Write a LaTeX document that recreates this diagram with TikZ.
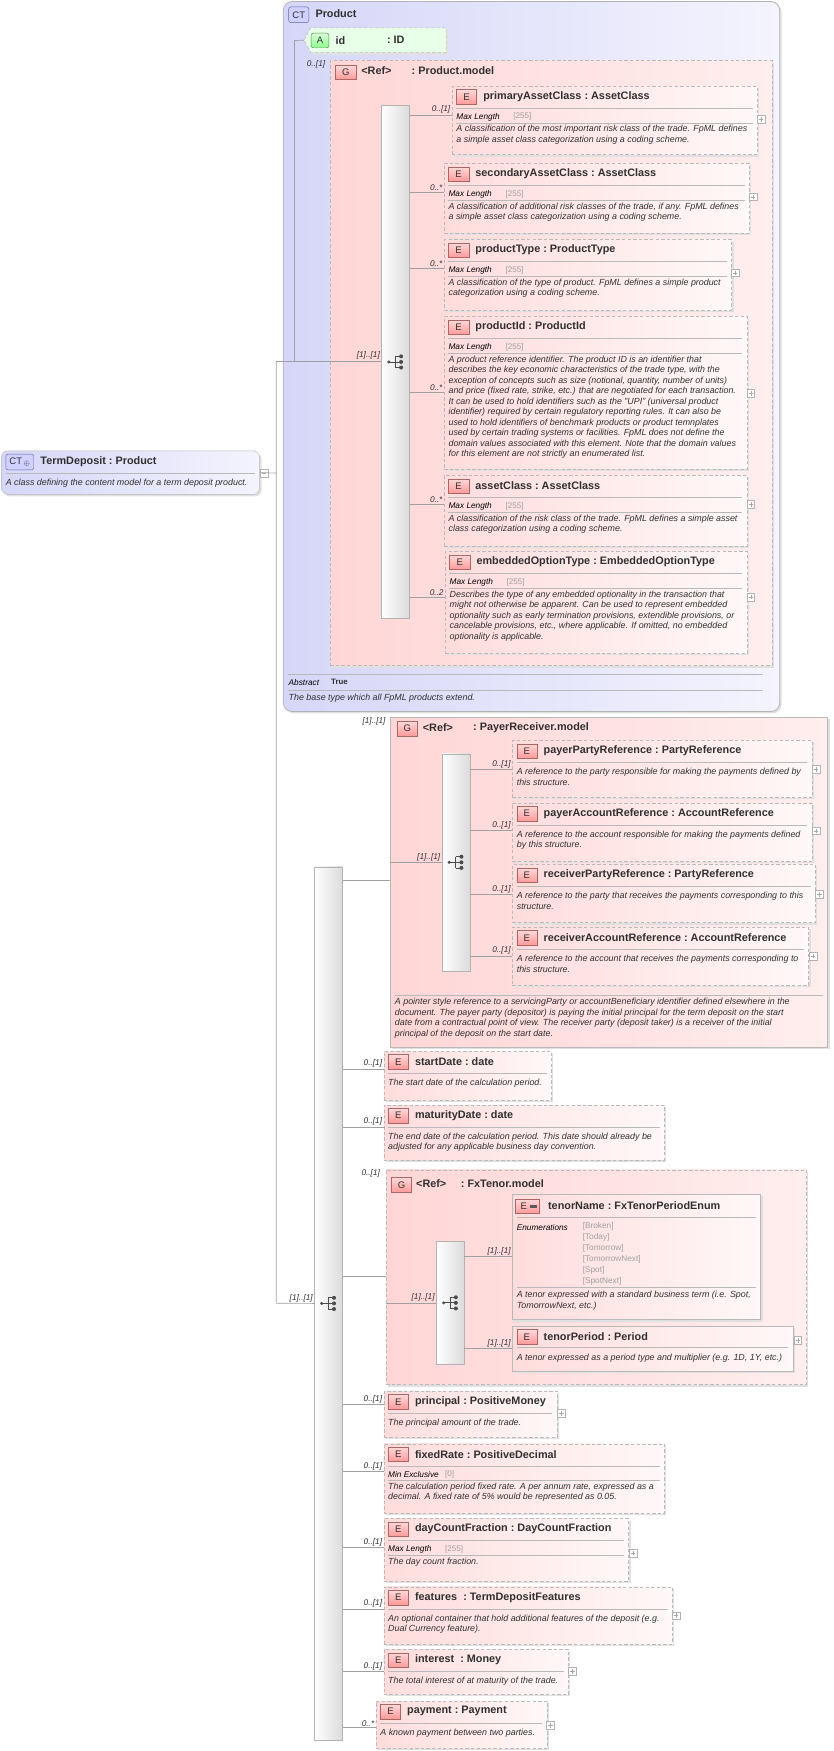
\documentclass[tikz,border=0pt]{standalone}
\usepackage{fontspec}
\setmainfont{Liberation Sans}
\definecolor{elL}{HTML}{FFDCDC}
\definecolor{elR}{HTML}{FFF8F8}
\definecolor{gL}{HTML}{FFD6D6}
\definecolor{gR}{HTML}{FFEEEE}
\definecolor{ctL}{HTML}{D6D6F8}
\definecolor{ctR}{HTML}{F4F4FE}
\definecolor{txt}{HTML}{303030}
\definecolor{lnc}{HTML}{A0A0A0}
\tikzset{
 eb/.style={draw=gray!55, left color=elL, right color=elR, inner sep=0pt, line width=0.6pt},
 ebd/.style={eb, dash pattern=on 3pt off 2pt},
 gb/.style={draw=gray!55, left color=gL, right color=gR, inner sep=0pt, line width=0.7pt},
 gbd/.style={gb, dash pattern=on 3pt off 2pt},
 shd/.style={fill=black!12},
 eicon/.style={draw=red!45!black!60, top color=red!15, bottom color=red!40, minimum width=18pt, minimum height=13pt, inner sep=0pt, font=\fontsize{8.5}{8}\selectfont, text=txt},
 cticon/.style={draw=blue!40!black!60, fill=blue!18, rounded corners=2pt, minimum width=18pt, minimum height=14pt, inner sep=0pt, font=\fontsize{8.5}{8}\selectfont, text=txt},
 ttl/.style={font=\fontsize{9.7}{10}\selectfont\bfseries, text=txt, inner sep=0pt},
 dsc/.style={font=\fontsize{7.95}{9.4}\selectfont\itshape, text=txt, inner sep=0pt, align=left},
 rl/.style={font=\fontsize{7.4}{8}\selectfont\itshape, text=black, inner sep=0pt},
 rv/.style={font=\fontsize{7.2}{8}\selectfont, text=gray!75, inner sep=0pt},
 mult/.style={font=\fontsize{7.4}{8}\selectfont\itshape, text=txt, inner sep=1pt},
 sepc/.style={draw=gray!55, line width=0.6pt},
 ln/.style={draw=lnc, line width=0.6pt},
 seqbar/.style={draw=gray!60, left color=white, right color=gray!28, inner sep=0pt},
 icn/.style={draw=black!70, line width=0.7pt},
}
\newcommand\elemA[9]{%
 \fill[shd] (#2+2,#3+2) rectangle ++(#4,#5);
 \node[#6, minimum width=#4pt, minimum height=#5pt, anchor=north west] (#1) at (#2,#3) {};
 \node[eicon, anchor=north west] (#1i) at (#2+4,#3+3) {E};
 \node[ttl, anchor=west] (#1t) at (#2+28,#3+9.5) {#7};
 \draw[sepc] (#2+4,#3+20) -- (#2+#4-4,#3+20);
 \node[rl, anchor=west] (#1r) at (#2+4,#3+28) {#8};
 \node[rv, anchor=west] (#1v) at (#2+55,#3+27.5) {#9};
 \draw[sepc] (#2+4,#3+33) -- (#2+#4-4,#3+33);}
\newcommand\elemB[7]{%
 \fill[shd] (#2+2,#3+2) rectangle ++(#4,#5);
 \node[#6, minimum width=#4pt, minimum height=#5pt, anchor=north west] (#1) at (#2,#3) {};
 \node[eicon, anchor=north west] (#1i) at (#2+4,#3+3) {E};
 \node[ttl, anchor=west] (#1t) at (#2+28,#3+9.5) {#7};
 \draw[sepc] (#2+4,#3+20) -- (#2+#4-4,#3+20);}
\newcommand\dscA[2]{\node[dsc, anchor=north west] (#1d) at ([shift={(4pt,-35pt)}]#1.north west) {#2};}
\newcommand\dscB[2]{\node[dsc, anchor=north west] (#1d) at ([shift={(4pt,-25pt)}]#1.north west) {#2};}
\newcommand\plusb[2]{\draw[draw=gray!60, fill=white, line width=0.5pt] (#1-3.5,#2-3.5) rectangle (#1+3.5,#2+3.5); \draw[draw=gray!70, line width=0.5pt] (#1-2,#2) -- (#1+2,#2) (#1,#2-2) -- (#1,#2+2);}
\newcommand\seqicon[1]{\begin{scope}[shift={(#1.center)}]
 \draw[icn] (-6,0)--(0,0) (0,-5)--(0,5) (0,-5)--(5,-5) (0,5)--(5,5) (0,0)--(5,0);
 \fill[black!70] (-6,0) circle (1.5) (5,-5) circle (1.8) (5,0) circle (1.8) (5,5) circle (1.8);\end{scope}}
\newcommand\conn[4]{\draw[ln] (#1.east |- 0,#3) -- (#2.west |- 0,#3) node[mult, anchor=south east, pos=1] {#4};}
\begin{document}
\begin{tikzpicture}[x=1pt,y=-1pt]
\useasboundingbox[fill=white] (0,0) rectangle (745,1566);

% ===== TermDeposit =====
\fill[shd, rounded corners=6pt] (3,405) rectangle (234,444);
\node[draw=gray!55, left color=ctL, right color=ctR, rounded corners=6pt, minimum width=231pt, minimum height=39pt, anchor=north west, inner sep=0pt] (td) at (1,403) {};
\node[cticon, minimum width=25pt, anchor=north west] (tdi) at (5,406) {CT\,\raisebox{-0.5pt}{$\scriptstyle\oplus$}};
\node[ttl, anchor=west] (tdt) at (36,413) {TermDeposit\ :\ Product};
\draw[sepc] (5,423) -- (228,423);
\node[dsc, anchor=west] (tdd) at (5,432.5) {A class defining the content model for a term deposit product.};
\draw[draw=gray!60, fill=white, line width=0.5pt] (232.5,419.5) rectangle (239.5,426.5);
\draw[draw=gray!70, line width=0.5pt] (234,423) -- (238,423);

% ===== Product =====
\fill[shd, rounded corners=8pt] (255,3) rectangle (699,638);
\node[draw=gray!60, left color=ctL, right color=ctR, rounded corners=8pt, minimum width=444pt, minimum height=635pt, anchor=north west, inner sep=0pt, line width=0.7pt] (prod) at (253,1) {};
\node[cticon, anchor=north west] (prodi) at (258,6) {CT};
\node[ttl, anchor=west] (prodt) at (282,12.5) {Product};
% id
\fill[shd] (280,27) -- (401,27) -- (401,49) -- (280,49) -- cycle;
\draw[draw=gray!55, fill=green!9, dash pattern=on 3pt off 2pt] (272,36) -- (278,25) -- (399,25) -- (399,47) -- (278,47) -- cycle;
\node[draw=green!35!black!70, top color=green!15, bottom color=green!45, rounded corners=2pt, minimum width=16pt, minimum height=13pt, inner sep=0pt, font=\fontsize{8.5}{8}\selectfont, text=txt, anchor=north west] (idi) at (278,29.5) {A};
\node[ttl, anchor=west] (id) at (300,36) {id};
\node[ttl, anchor=west] (idt) at (346,36) {:\ ID};
% abstract
\draw[sepc] (258,603) -- (682,603);
\node[rl, anchor=west] (abs) at (258,610.5) {Abstract};
\node[font=\fontsize{7}{8}\selectfont\bfseries, text=txt, inner sep=0pt, anchor=west] (abv) at (296,610) {True};
\draw[sepc] (258,617) -- (682,617);
\node[dsc, anchor=west] (prodd) at (258,624.5) {The base type which all FpML products extend.};

% Product.model group
\fill[shd] (297,56) rectangle (692,597);
\node[gbd, minimum width=395pt, minimum height=541pt, anchor=north west] (pm) at (295,54) {};
\node[eicon, anchor=north west] (pmi) at (300,58) {G};
\node[ttl, anchor=west] (pmr) at (323,63.5) {<Ref>};
\node[ttl, anchor=west] (pmt) at (368,63.5) {:\ Product.model};
\node[seqbar, minimum width=25pt, minimum height=459pt, anchor=north west] (s1) at (341,94) {};
\seqicon{s1}

\elemA{pac}{404}{77}{273}{61}{ebd}{primaryAssetClass\ :\ AssetClass}{Max Length}{[255]}
\dscA{pac}{A classification of the most important risk class of the trade. FpML defines\\a simple asset class categorization using a coding scheme.}
\plusb{680.5}{107}
\elemA{sac}{397}{146}{273}{62}{ebd}{secondaryAssetClass\ :\ AssetClass}{Max Length}{[255]}
\dscA{sac}{A classification of additional risk classes of the trade, if any. FpML defines\\a simple asset class categorization using a coding scheme.}
\plusb{673.5}{176}
\elemA{pty}{397}{214}{257}{63}{ebd}{productType\ :\ ProductType}{Max Length}{[255]}
\dscA{pty}{A classification of the type of product. FpML defines a simple product\\categorization using a coding scheme.}
\plusb{657.5}{244}
\elemA{pid}{397}{283}{271}{136}{ebd}{productId\ :\ ProductId}{Max Length}{[255]}
\dscA{pid}{A product reference identifier. The product ID is an identifier that\\describes the key economic characteristics of the trade type, with the\\exception of concepts such as size (notional, quantity, number of units)\\and price (fixed rate, strike, etc.) that are negotiated for each transaction.\\It can be used to hold identifiers such as the "UPI" (universal product\\identifier) required by certain regulatory reporting rules. It can also be\\used to hold identifiers of benchmark products or product temnplates\\used by certain trading systems or facilities. FpML does not define the\\domain values associated with this element. Note that the domain values\\for this element are not strictly an enumerated list.}
\plusb{671.5}{352}
\elemA{acl}{397}{425}{271}{63}{ebd}{assetClass\ :\ AssetClass}{Max Length}{[255]}
\dscA{acl}{A classification of the risk class of the trade. FpML defines a simple asset\\class categorization using a coding scheme.}
\plusb{671.5}{451}
\elemA{eot}{398}{493}{270}{91}{ebd}{embeddedOptionType\ :\ EmbeddedOptionType}{Max Length}{[255]}
\dscA{eot}{Describes the type of any embedded optionality in the transaction that\\might not otherwise be apparent. Can be used to represent embedded\\optionality such as early termination provisions, extendible provisions, or\\cancelable provisions, etc., where applicable. If omitted, no embedded\\optionality is applicable.}
\plusb{671.5}{534}
\conn{s1}{pac}{103}{0..[1]}
\conn{s1}{sac}{172}{0..*}
\conn{s1}{pty}{240}{0..*}
\conn{s1}{pid}{351}{0..*}
\conn{s1}{acl}{451}{0..*}
\conn{s1}{eot}{534}{0..2}

% ===== outer sequence =====
\node[seqbar, minimum width=25pt, minimum height=781pt, anchor=north west] (s0) at (281,775) {};
\seqicon{s0}
\coordinate (jx) at (247,423);
\coordinate (px) at (263,323);
\draw[ln] (td.east) -- (jx) (247,323) -- (247,1164.5);
\draw[ln] (247,323) -- (px) (263,36) -- (263,323);
\draw[ln] (px |- idi) -- (272,36);
\draw[ln] (px) -- (s1.west |- px) node[mult, anchor=south east, pos=1] {[1]..[1]};
\node[mult, anchor=east] (pmm) at (292,58) {0..[1]};
\draw[ln] (247,1165.5) -- (s0.west) node[mult, anchor=south east, pos=1] {[1]..[1]};

% ===== PayerReceiver.model =====
\fill[shd] (351,643) rectangle (742,938);
\node[gb, minimum width=391pt, minimum height=295pt, anchor=north west] (pr) at (349,641) {};
\node[mult, anchor=east] (prm) at (346,645) {[1]..[1]};
\node[eicon, anchor=north west] (pri) at (355,645) {G};
\node[ttl, anchor=west] (prr) at (378,650.5) {<Ref>};
\node[ttl, anchor=west] (prt) at (423,650.5) {:\ PayerReceiver.model};
\node[seqbar, minimum width=25pt, minimum height=194pt, anchor=north west] (s2) at (395,674) {};
\seqicon{s2}
\elemB{ppr}{458}{662}{268}{51}{ebd}{payerPartyReference\ :\ PartyReference}
\dscB{ppr}{A reference to the party responsible for making the payments defined by\\this structure.}
\plusb{730}{688}
\elemB{par}{458}{718}{268}{52}{ebd}{payerAccountReference\ :\ AccountReference}
\dscB{par}{A reference to the account responsible for making the payments defined\\by this structure.}
\plusb{730}{743}
\elemB{rpr}{458}{773}{271}{52}{ebd}{receiverPartyReference\ :\ PartyReference}
\dscB{rpr}{A reference to the party that receives the payments corresponding to this\\structure.}
\plusb{733}{800}
\elemB{rar}{458}{829}{265}{52}{ebd}{receiverAccountReference\ :\ AccountReference}
\dscB{rar}{A reference to the account that receives the payments corresponding to\\this structure.}
\plusb{727}{855}
\conn{s2}{ppr}{688}{0..[1]}
\conn{s2}{par}{743}{0..[1]}
\conn{s2}{rpr}{800}{0..[1]}
\conn{s2}{rar}{855}{0..[1]}
\draw[ln] (pr.west |- s2) -- (s2.west) node[mult, anchor=south east, pos=1] {[1]..[1]};
\draw[sepc] (353,890) -- (736,890);
\node[dsc, anchor=north west] (prd) at (353,892.5) {A pointer style reference to a servicingParty or accountBeneficiary identifier defined elsewhere in the\\document. The payer party (depositor) is paying the initial principal for the term deposit on the start\\date from a contractual point of view. The receiver party (deposit taker) is a receiver of the initial\\principal of the deposit on the start date.};
\draw[ln] (s0.east |- 0,787.5) -- (pr.west |- 0,787.5);

% ===== simple elements =====
\elemB{sd}{343}{940}{150}{44}{ebd}{startDate\ :\ date}
\dscB{sd}{The start date of the calculation period.}
\elemB{md}{343}{988}{251}{49}{ebd}{maturityDate\ :\ date}
\dscB{md}{The end date of the calculation period. This date should already be\\adjusted for any applicable business day convention.}
\conn{s0}{sd}{956}{0..[1]}
\conn{s0}{md}{1008}{0..[1]}

% ===== FxTenor.model =====
\fill[shd] (347,1048) rectangle (723,1240);
\node[gbd, minimum width=376pt, minimum height=192pt, anchor=north west] (fx) at (345,1046) {};
\node[mult, anchor=east] (fxm) at (341,1049) {0..[1]};
\node[eicon, anchor=north west] (fxi) at (350,1053) {G};
\node[ttl, anchor=west] (fxr) at (372,1058.5) {<Ref>};
\node[ttl, anchor=west] (fxt) at (412,1058.5) {:\ FxTenor.model};
\node[seqbar, minimum width=25pt, minimum height=110pt, anchor=north west] (s3) at (390,1110) {};
\seqicon{s3}
\draw[ln] (s0.east |- 0,1141.5) -- (fx.west |- 0,1141.5);
\draw[ln] (fx.west |- s3) -- (s3.west) node[mult, anchor=south east, pos=1] {[1]..[1]};
% tenorName
\fill[shd] (460,1070) rectangle (682,1182);
\node[eb, minimum width=222pt, minimum height=112pt, anchor=north west] (tn) at (458,1068) {};
\node[eicon, minimum width=21pt, anchor=north west, text width=19pt, align=left] (tni) at (461,1072) {\hspace{3.5pt}E};
\fill[black!65] (474,1077.5) rectangle (480,1080);
\node[ttl, anchor=west] (tnt) at (490,1078.5) {tenorName\ :\ FxTenorPeriodEnum};
\draw[sepc] (462,1089) -- (676,1089);
\node[rl, anchor=west] (tnr) at (462,1098) {Enumerations};
\node[rv, anchor=north west, align=left, font=\fontsize{7.4}{9.8}\selectfont] (tnv) at (521,1093.5) {{[Broken]}\\{[Today]}\\{[Tomorrow]}\\{[TomorrowNext]}\\{[Spot]}\\{[SpotNext]}};
\draw[sepc] (462,1151) -- (676,1151);
\node[dsc, anchor=north west] (tnd) at (462,1154.5) {A tenor expressed with a standard business term (i.e. Spot,\\TomorrowNext, etc.)};
% tenorPeriod
\fill[shd] (460,1188) rectangle (711,1228);
\node[eb, minimum width=251pt, minimum height=40pt, anchor=north west] (tp) at (458,1186) {};
\node[eicon, anchor=north west] (tpi) at (462,1189) {E};
\node[ttl, anchor=west] (tpt) at (486,1195.5) {tenorPeriod\ :\ Period};
\draw[sepc] (462,1205) -- (705,1205);
\node[dsc, anchor=west] (tpd) at (462,1215) {A tenor expressed as a period type and multiplier (e.g. 1D, 1Y, etc.)};
\plusb{713.5}{1199}
\conn{s3}{tn}{1124}{[1]..[1]}
\conn{s3}{tp}{1206}{[1]..[1]}

% ===== remaining elements =====
\elemB{prn}{343}{1244}{155}{41}{ebd}{principal\ :\ PositiveMoney}
\dscB{prn}{The principal amount of the trade.}
\plusb{502}{1264}
\elemA{fr}{343}{1291}{251}{62}{ebd}{fixedRate\ :\ PositiveDecimal}{Min Exclusive}{[0]}
\dscA{fr}{The calculation period fixed rate. A per annum rate, expressed as a\\decimal. A fixed rate of 5\% would be represented as 0.05.}
\elemA{dcf}{343}{1358}{219}{56}{ebd}{dayCountFraction\ :\ DayCountFraction}{Max Length}{[255]}
\dscA{dcf}{The day count fraction.}
\plusb{566}{1389}
\elemB{fe}{343}{1419}{258}{51}{ebd}{features\ \ :\ TermDepositFeatures}
\dscB{fe}{An optional container that hold additional features of the deposit (e.g.\\Dual Currency feature).}
\plusb{604.5}{1445}
\elemB{it}{343}{1475}{165}{40}{ebd}{interest\ \ :\ Money}
\dscB{it}{The total interest of at maturity of the trade.}
\plusb{512}{1495}
\elemB{pay}{336}{1521}{153}{42}{ebd}{payment\ :\ Payment}
\dscB{pay}{A known payment between two parties.}
\plusb{492.5}{1543}
\conn{s0}{prn}{1256}{0..[1]}
\conn{s0}{fr}{1316}{0..[1]}
\conn{s0}{dcf}{1384}{0..[1]}
\conn{s0}{fe}{1439}{0..[1]}
\conn{s0}{it}{1495}{0..[1]}
\conn{s0}{pay}{1545}{0..*}
\end{tikzpicture}
\end{document}
